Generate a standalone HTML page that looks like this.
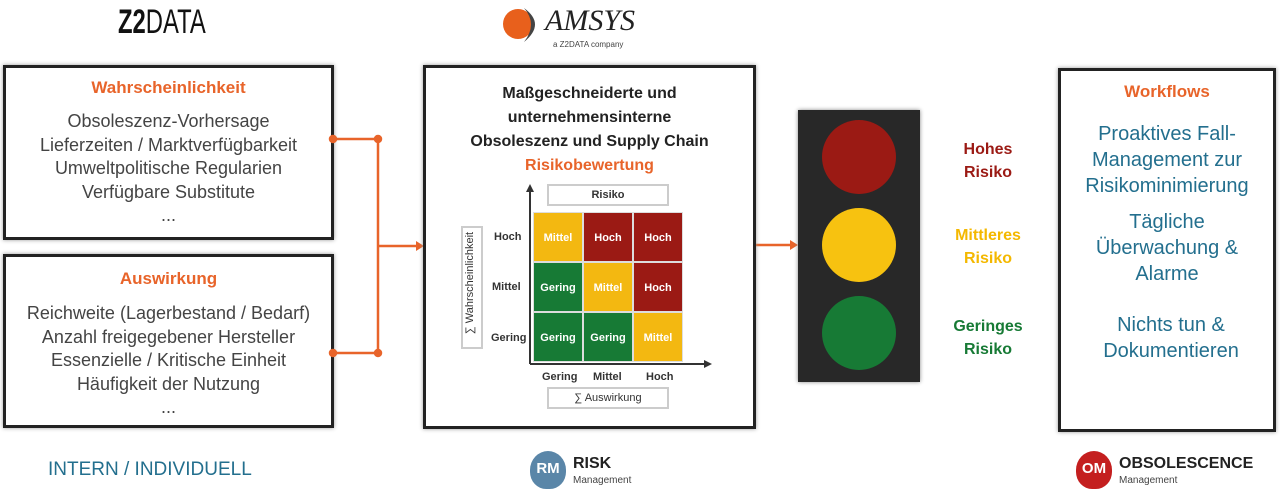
<!DOCTYPE html>
<html><head><meta charset="utf-8"><style>
body{margin:0;width:1280px;height:492px;background:#fff;position:relative;overflow:hidden;font-family:"Liberation Sans",sans-serif}
.a{position:absolute}
.box{position:absolute;border:3px solid #222;box-sizing:border-box;box-shadow:0 0 4px #999;background:#fff}
.c{text-align:center}
.or{color:#e8642a;font-weight:bold}
.gr{color:#444;font-size:18px;line-height:23.5px}
.bl{color:#236f8e;font-size:20px;line-height:26px}
.cell{position:absolute;width:50px;height:50px;color:#fff;font-size:11px;font-weight:bold;line-height:50px;text-align:center;box-sizing:border-box;border:1px solid #ddd}
.Y{background:#f3b811}.R{background:#9b1a14}.G{background:#177a35}
.lb{position:absolute;font-size:11px;font-weight:bold;color:#333}
</style></head><body>
<div class="a" style="left:118px;top:3px;font-size:34px;color:#111;transform:scaleX(.7);transform-origin:left"><b>Z2</b>DATA</div>
<svg class="a" style="left:498px;top:4px" width="80" height="40"><circle cx="20" cy="20" r="15" fill="#e8601c"/><path d="M26 4 Q48 20 26 38 Q40 20 26 4" fill="#444"/></svg>
<div class="a" style="left:545px;top:4px;font-size:30px;font-style:italic;color:#222;font-family:'Liberation Serif',serif">AMSYS</div>
<div class="a" style="left:553px;top:40px;font-size:8px;color:#444">a Z2DATA company</div>

<div class="box" style="left:3px;top:65px;width:331px;height:175px"></div>
<div class="a c or" style="left:3px;top:78px;width:331px;font-size:17px">Wahrscheinlichkeit</div>
<div class="a c gr" style="left:3px;top:110px;width:331px">Obsoleszenz-Vorhersage<br>Lieferzeiten / Marktverfügbarkeit<br>Umweltpolitische Regularien<br>Verfügbare Substitute<br>...</div>
<div class="box" style="left:3px;top:254px;width:331px;height:174px"></div>
<div class="a c or" style="left:3px;top:269px;width:331px;font-size:17px">Auswirkung</div>
<div class="a c gr" style="left:3px;top:302px;width:331px">Reichweite (Lagerbestand / Bedarf)<br>Anzahl freigegebener Hersteller<br>Essenzielle / Kritische Einheit<br>Häufigkeit der Nutzung<br>...</div>

<svg class="a" style="left:0;top:0" width="1280" height="492">
<g stroke="#e8642a" stroke-width="2.5" fill="#e8642a">
<line x1="333" y1="139" x2="378" y2="139"/><line x1="333" y1="353" x2="378" y2="353"/>
<line x1="378" y1="139" x2="378" y2="353"/><line x1="378" y1="246" x2="416" y2="246"/>
<circle cx="333" cy="139" r="3"/><circle cx="378" cy="139" r="3"/><circle cx="333" cy="353" r="3"/><circle cx="378" cy="353" r="3"/>
<line x1="755" y1="245" x2="792" y2="245"/>
</g>
<polygon points="416,241 424,246 416,251" fill="#e8642a"/>
<polygon points="790,240 798,245 790,250" fill="#e8642a"/>
</svg>

<div class="box" style="left:423px;top:65px;width:333px;height:364px"></div>
<div class="a c" style="left:423px;top:82px;width:333px;font-size:16px;font-weight:bold;line-height:24px;color:#222">Maßgeschneiderte und<br>unternehmensinterne<br>Obsoleszenz und Supply Chain<br><span style="color:#e8642a">Risikobewertung</span></div>
<div class="a c" style="left:547px;top:184px;width:118px;height:18px;border:2px solid #ccc;font-size:11px;font-weight:bold;line-height:18px;color:#333">Risiko</div>
<div class="a" style="left:461px;top:226px;width:18px;height:119px;border:2px solid #ccc"></div>
<div class="a c" style="left:410px;top:277px;width:120px;transform:rotate(-90deg);font-size:11px;color:#333">∑ Wahrscheinlichkeit</div>
<div class="a c" style="left:547px;top:387px;width:118px;height:18px;border:2px solid #ccc;font-size:11px;line-height:18px;color:#333">∑ Auswirkung</div>
<div class="cell Y" style="left:533px;top:212px">Mittel</div><div class="cell R" style="left:583px;top:212px">Hoch</div><div class="cell R" style="left:633px;top:212px">Hoch</div>
<div class="cell G" style="left:533px;top:262px">Gering</div><div class="cell Y" style="left:583px;top:262px">Mittel</div><div class="cell R" style="left:633px;top:262px">Hoch</div>
<div class="cell G" style="left:533px;top:312px">Gering</div><div class="cell G" style="left:583px;top:312px">Gering</div><div class="cell Y" style="left:633px;top:312px">Mittel</div>
<svg class="a" style="left:0;top:0" width="1280" height="492"><g stroke="#333" stroke-width="2"><line x1="530" y1="190" x2="530" y2="364"/><line x1="530" y1="364" x2="706" y2="364"/></g>
<polygon points="526,192 530,184 534,192" fill="#333"/><polygon points="704,360 712,364 704,368" fill="#333"/></svg>
<div class="lb" style="left:494px;top:231px">Hoch</div><div class="lb" style="left:492px;top:281px">Mittel</div><div class="lb" style="left:491px;top:332px">Gering</div>
<div class="lb" style="left:542px;top:371px">Gering</div><div class="lb" style="left:593px;top:371px">Mittel</div><div class="lb" style="left:646px;top:371px">Hoch</div>

<div class="a" style="left:798px;top:110px;width:122px;height:272px;background:#282828;box-shadow:0 0 4px #888"></div>
<div class="a" style="left:822px;top:120px;width:74px;height:74px;border-radius:50%;background:#9b1a14"></div>
<div class="a" style="left:822px;top:208px;width:74px;height:74px;border-radius:50%;background:#f7c210"></div>
<div class="a" style="left:822px;top:296px;width:74px;height:74px;border-radius:50%;background:#177a35"></div>
<div class="a c" style="left:938px;top:138px;width:100px;font-size:16px;font-weight:bold;line-height:23px;color:#9b1a14">Hohes<br>Risiko</div>
<div class="a c" style="left:938px;top:224px;width:100px;font-size:16px;font-weight:bold;line-height:23px;color:#f4b800">Mittleres<br>Risiko</div>
<div class="a c" style="left:938px;top:315px;width:100px;font-size:16px;font-weight:bold;line-height:23px;color:#177a35">Geringes<br>Risiko</div>

<div class="box" style="left:1058px;top:68px;width:218px;height:364px"></div>
<div class="a c or" style="left:1058px;top:82px;width:218px;font-size:17px">Workflows</div>
<div class="a c bl" style="left:1058px;top:121px;width:218px">Proaktives Fall-<br>Management zur<br>Risikominimierung</div>
<div class="a c bl" style="left:1058px;top:209px;width:218px">Tägliche<br>Überwachung &amp;<br>Alarme</div>
<div class="a c bl" style="left:1062px;top:312px;width:218px">Nichts tun &amp;<br>Dokumentieren</div>

<div class="a" style="left:48px;top:459px;font-size:19px;color:#236f8e">INTERN / INDIVIDUELL</div>
<div class="a c" style="left:530px;top:451px;width:36px;height:38px;border-radius:50% 50% 45% 45%;background:#5a86a8;color:#fff;font-weight:bold;font-size:15px;line-height:36px">RM</div>
<div class="a" style="left:573px;top:455px;font-size:16px;font-weight:bold;color:#222">RISK</div>
<div class="a" style="left:573px;top:475px;font-size:10px;color:#444">Management</div>
<div class="a c" style="left:1076px;top:451px;width:36px;height:38px;border-radius:50% 50% 45% 45%;background:#c41f1f;color:#fff;font-weight:bold;font-size:15px;line-height:36px">OM</div>
<div class="a" style="left:1119px;top:455px;font-size:16px;font-weight:bold;color:#222">OBSOLESCENCE</div>
<div class="a" style="left:1119px;top:475px;font-size:10px;color:#444">Management</div>
</body></html>
